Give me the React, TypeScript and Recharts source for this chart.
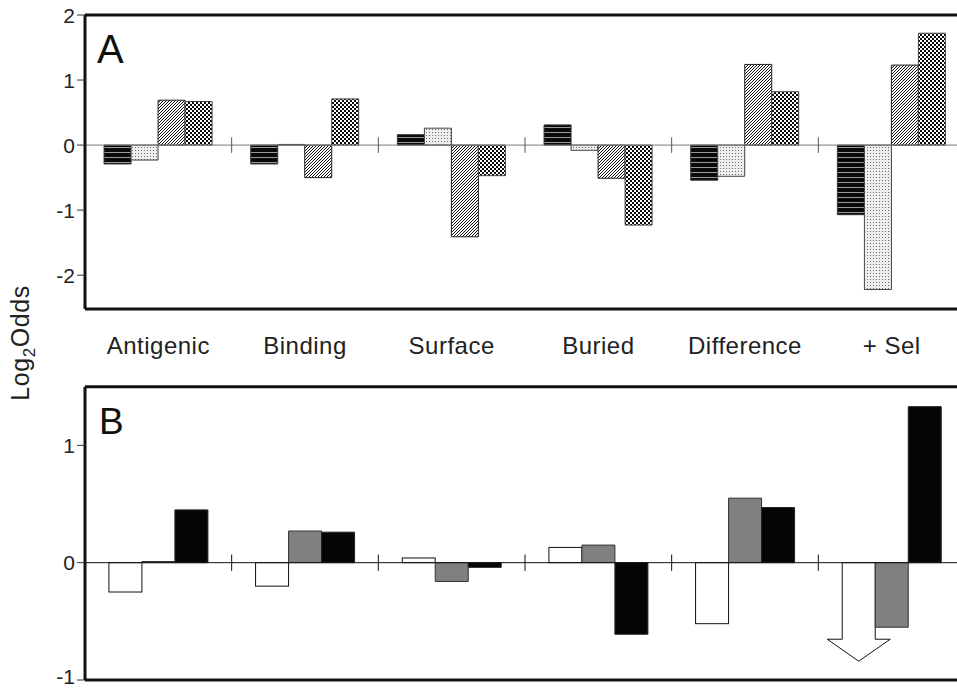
import { BarChart, Bar, XAxis, YAxis, ReferenceLine } from 'recharts';

const categories = ['Antigenic', 'Binding', 'Surface', 'Buried', 'Difference', '+ Sel'];

// panel A (patterned bars)
const aStriped = [-0.29, -0.29, 0.16, 0.31, -0.54, -1.07];
const aDotted = [-0.23, 0.01, 0.26, -0.08, -0.48, -2.22];
const aHatched = [0.69, -0.5, -1.41, -0.51, 1.24, 1.23];
const aChecked = [0.67, 0.71, -0.47, -1.23, 0.82, 1.72];

// panel B (white / gray / black)
const bWhite = [-0.25, -0.2, 0.04, 0.13, -0.52, -0.84];
const bGray = [0.01, 0.27, -0.16, 0.15, 0.55, -0.55];
const bBlack = [0.45, 0.26, -0.04, -0.61, 0.47, 1.33];
const bOffScale = [false, false, false, false, false, true];

const ticksA = [-2, -1, 0, 1, 2];
const ticksB = [-1, 0, 1];
const boundaries = [1, 2, 3, 4, 5];

const dataA = categories.map((name, i) => ({
  name,
  pos: i + 0.5,
  striped: aStriped[i],
  dotted: aDotted[i],
  hatched: aHatched[i],
  checked: aChecked[i],
}));

const dataB = categories.map((name, i) => ({
  name,
  pos: i + 0.5,
  white: bWhite[i],
  gray: bGray[i],
  black: bBlack[i],
}));

const FONT = '"Liberation Sans", Arial, sans-serif';
const INK = '#111';

function CategoryTick(props: any) {
  const { x, y, payload } = props;
  return (
    <text x={x} y={y} dy={37} textAnchor="middle" fontSize={24} letterSpacing={0.5} fill="#222" fontFamily={FONT}>
      {payload.value}
    </text>
  );
}

// y tick label; the bottom one in panel B sits on the image edge so nudge it up a bit
function ValueTick(props: any) {
  const { x, y, payload, edge } = props;
  const dy = edge !== undefined && payload.value === edge ? 4 : 7.5;
  return (
    <text x={x} y={y} dy={dy} textAnchor="end" fontSize={21} fill="#222" fontFamily={FONT}>
      {payload.value}
    </text>
  );
}

function WhiteBar(props: any) {
  const { x, y, width, height, index } = props;
  const top = Math.min(y, y + height);
  const bottom = Math.max(y, y + height);
  if (!bOffScale[index]) {
    return <rect x={x} y={top} width={width} height={bottom - top} fill="#fff" stroke={INK} strokeWidth={1} />;
  }
  // off-scale value: draw as a down arrow
  const neck = bottom - 22;
  const cx = x + width / 2;
  const pts = [
    [x, top], [x + width, top], [x + width, neck], [x + width + 15, neck],
    [cx, bottom], [x - 15, neck], [x, neck],
  ].map((p) => p.join(',')).join(' ');
  return <polygon points={pts} fill="#fff" stroke={INK} strokeWidth={1} />;
}

export default function App() {
  return (
    <div style={{ position: 'absolute', left: 0, top: 0, width: 957, height: 690, overflow: 'hidden', background: '#fff' }}>
      <div style={{ position: 'absolute', left: 0, top: 0 }}>
        <BarChart width={965} height={370} data={dataA} margin={{ top: 15, right: 0, bottom: 0, left: 0 }} barCategoryGap="13%" barGap={0}>
          <defs>
            <pattern id="hstripe" width="6" height="5" patternUnits="userSpaceOnUse">
              <rect width="6" height="5" fill="#0a0a0a" />
              <rect y="2" width="6" height="1" fill="#9a9a9a" />
            </pattern>
            <pattern id="dots" width="3" height="3" patternUnits="userSpaceOnUse">
              <rect width="3" height="3" fill="#eeeeee" />
              <rect width="1" height="1" fill="#6a6a6a" />
            </pattern>
            <pattern id="hatch" width="3" height="3" patternUnits="userSpaceOnUse">
              <rect width="3" height="3" fill="#fff" />
              <path d="M-1,1 l2,-2 M0,3 l3,-3 M2,4 l2,-2" stroke="#111" strokeWidth="1" />
            </pattern>
            <pattern id="check" width="4" height="4" patternUnits="userSpaceOnUse">
              <rect width="4" height="4" fill="#0a0a0a" />
              <rect width="2" height="2" fill="#fff" />
              <rect x="2" y="2" width="2" height="2" fill="#fff" />
            </pattern>
          </defs>
          <XAxis dataKey="name" height={61} axisLine={false} tickLine={false} tick={<CategoryTick />} interval={0} />
          <XAxis xAxisId="sep" dataKey="pos" type="number" domain={[0, 6]} allowDataOverflow hide />
          <YAxis
            width={85}
            domain={[-2.52, 2]}
            ticks={ticksA}
            interval={0}
            allowDataOverflow
            axisLine={{ stroke: INK, strokeWidth: 3 }}
            tickLine={{ stroke: '#333' }}
            tickSize={8}
            tick={<ValueTick />}
          />
          <ReferenceLine y={0} stroke="#777" />
          {boundaries.map((b) => (
            <ReferenceLine key={b} xAxisId="sep" segment={[{ x: b, y: -0.12 }, { x: b, y: 0.12 }]} stroke="#555" />
          ))}
          <Bar dataKey="striped" fill="url(#hstripe)" stroke="#333" isAnimationActive={false} />
          <Bar dataKey="dotted" fill="url(#dots)" stroke="#444" isAnimationActive={false} />
          <Bar dataKey="hatched" fill="url(#hatch)" stroke="#222" isAnimationActive={false} />
          <Bar dataKey="checked" fill="url(#check)" stroke="#444" isAnimationActive={false} />
          <ReferenceLine y={2} stroke={INK} strokeWidth={3} />
          <ReferenceLine y={-2.52} stroke={INK} strokeWidth={3} />
        </BarChart>
      </div>

      <div style={{ position: 'absolute', left: 0, top: 370 }}>
        <BarChart width={965} height={320} data={dataB} margin={{ top: 16.7, right: 0, bottom: 10, left: 0 }} barCategoryGap="16.3%" barGap={0}>
          <XAxis dataKey="name" hide />
          <XAxis xAxisId="sep" dataKey="pos" type="number" domain={[0, 6]} allowDataOverflow hide />
          <YAxis
            width={85}
            domain={[-1, 1.5]}
            ticks={ticksB}
            interval={0}
            allowDataOverflow
            axisLine={{ stroke: INK, strokeWidth: 3 }}
            tickLine={{ stroke: '#333' }}
            tickSize={8}
            tick={<ValueTick edge={-1} />}
          />
          <ReferenceLine y={0} stroke={INK} />
          {boundaries.map((b) => (
            <ReferenceLine key={b} xAxisId="sep" segment={[{ x: b, y: -0.07 }, { x: b, y: 0.07 }]} stroke={INK} />
          ))}
          <Bar dataKey="white" shape={<WhiteBar />} isAnimationActive={false} />
          <Bar dataKey="gray" fill="#808080" stroke="#333" isAnimationActive={false} />
          <Bar dataKey="black" fill="#050505" stroke="#222" isAnimationActive={false} />
          <ReferenceLine y={1.5} stroke={INK} strokeWidth={3} />
          <ReferenceLine y={-1} stroke={INK} strokeWidth={3} />
        </BarChart>
      </div>

      <svg width={957} height={690} style={{ position: 'absolute', left: 0, top: 0, pointerEvents: 'none' }}>
        <text x={97} y={63} fontSize={40} fill={INK} fontFamily={FONT}>A</text>
        <text x={99} y={434} fontSize={37} fill={INK} fontFamily={FONT}>B</text>
        <text transform="translate(29,343) rotate(-90)" textAnchor="middle" fontSize={25} letterSpacing={0.6} fill="#222" fontFamily={FONT}>
          Log<tspan fontSize={17} dy={6}>2</tspan><tspan dy={-6} fontSize={25}>Odds</tspan>
        </text>
      </svg>
    </div>
  );
}
